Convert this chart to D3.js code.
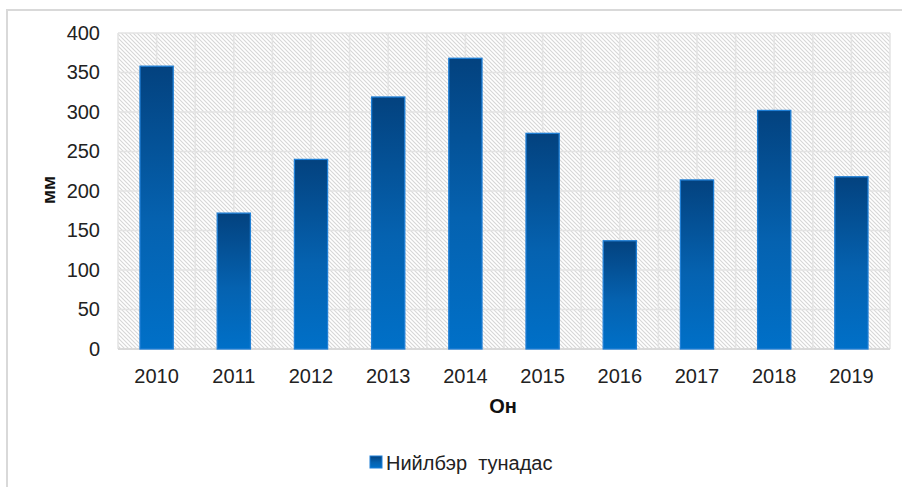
<!DOCTYPE html>
<html><head><meta charset="utf-8">
<script src="https://cdn.jsdelivr.net/npm/d3@7"></script>
<style>body{margin:0;background:#fff}svg{display:block}text{font-family:"Liberation Sans",Arial,sans-serif}</style>
</head><body>
<script>
const years = ["2010","2011","2012","2013","2014","2015","2016","2017","2018","2019"];
const rainfall = [358, 172, 240, 319, 368, 273, 137, 214, 302, 218];
const yTicks = [0,50,100,150,200,250,300,350,400];
const seriesName = "Нийлбэр  тунадас";
const xTitle = "Он", yTitle = "мм";

const W=902,H=487;
const svg=d3.select("body").append("svg").attr("width",W).attr("height",H);
const defs=svg.append("defs");
const pat=defs.append("pattern").attr("id","hatch").attr("patternUnits","userSpaceOnUse").attr("width",4).attr("height",4);
pat.append("rect").attr("width",4).attr("height",4).attr("fill","#fff");
pat.append("path").attr("d","M-1,-1 L5,5 M-1,3 L1,5 M3,-1 L5,1").attr("stroke","#d6d6d6").attr("stroke-width",1.1);
const grad=defs.append("linearGradient").attr("id","barg").attr("x1",0).attr("y1",0).attr("x2",0).attr("y2",1);
grad.append("stop").attr("offset","0%").attr("stop-color","#03427f");
grad.append("stop").attr("offset","55%").attr("stop-color","#0562b0");
grad.append("stop").attr("offset","100%").attr("stop-color","#0070c8");

// frame
svg.append("path").attr("d","M7,487 L7,10 L902,10").attr("fill","none").attr("stroke","#d9d9d9").attr("stroke-width",2);

const m={l:118,t:33,r:890,b:349};
const x=d3.scaleBand().domain(years).range([m.l,m.r]).paddingInner(0.57).paddingOuter(0.285);
const y=d3.scaleLinear().domain([0,400]).range([m.b,m.t]);
const step=(m.r-m.l)/years.length;

svg.append("rect").attr("x",m.l).attr("y",m.t).attr("width",m.r-m.l).attr("height",m.b-m.t).attr("fill","url(#hatch)");
const g=svg.append("g");
yTicks.forEach(t=>{g.append("line").attr("x1",m.l).attr("x2",m.r).attr("y1",y(t)).attr("y2",y(t)).attr("stroke","#e3e3e3").attr("stroke-width",1.5);});
for(let i=0;i<=years.length*2;i++){const xx=m.l+i*step/2;g.append("line").attr("x1",xx).attr("x2",xx).attr("y1",m.t).attr("y2",m.b).attr("stroke","#e3e3e3").attr("stroke-width",1.5);}
svg.append("line").attr("x1",m.l).attr("x2",m.r).attr("y1",m.b).attr("y2",m.b).attr("stroke","#d9d9d9").attr("stroke-width",2);

svg.selectAll(".bar").data(years).enter().append("rect")
 .attr("x",d=>x(d)).attr("width",x.bandwidth())
 .attr("y",(d,i)=>y(rainfall[i])).attr("height",(d,i)=>m.b-y(rainfall[i]))
 .attr("fill","url(#barg)").attr("stroke","#1f7fd6").attr("stroke-width",1.3);

const ya=svg.append("g").attr("transform",`translate(${m.l},0)`).call(d3.axisLeft(y).tickValues(yTicks).tickSize(0).tickPadding(18));
ya.select(".domain").remove();
ya.selectAll("text").attr("font-size",20).attr("fill","#222").style("font-family","'Liberation Sans',Arial,sans-serif");
const xa=svg.append("g").attr("transform",`translate(0,${m.b})`).call(d3.axisBottom(x).tickSize(0).tickPadding(20));
xa.select(".domain").remove();
xa.selectAll("text").attr("font-size",20).attr("fill","#222").style("font-family","'Liberation Sans',Arial,sans-serif");

svg.append("text").attr("x",503).attr("y",413).attr("text-anchor","middle").attr("font-size",20).attr("font-weight","bold").attr("fill","#111").text(xTitle);
svg.append("text").attr("transform","translate(55,190) rotate(-90)").attr("text-anchor","middle").attr("font-size",19).attr("font-weight","bold").attr("fill","#111").text(yTitle);

svg.append("rect").attr("x",370).attr("y",456).attr("width",12).attr("height",12).attr("fill","url(#barg)").attr("stroke","#1f7fd6").attr("stroke-width",1);
svg.append("text").attr("x",386).attr("y",470).attr("font-size",20).attr("fill","#222").attr("xml:space","preserve").style("white-space","pre").text(seriesName);
</script>
</body></html>
